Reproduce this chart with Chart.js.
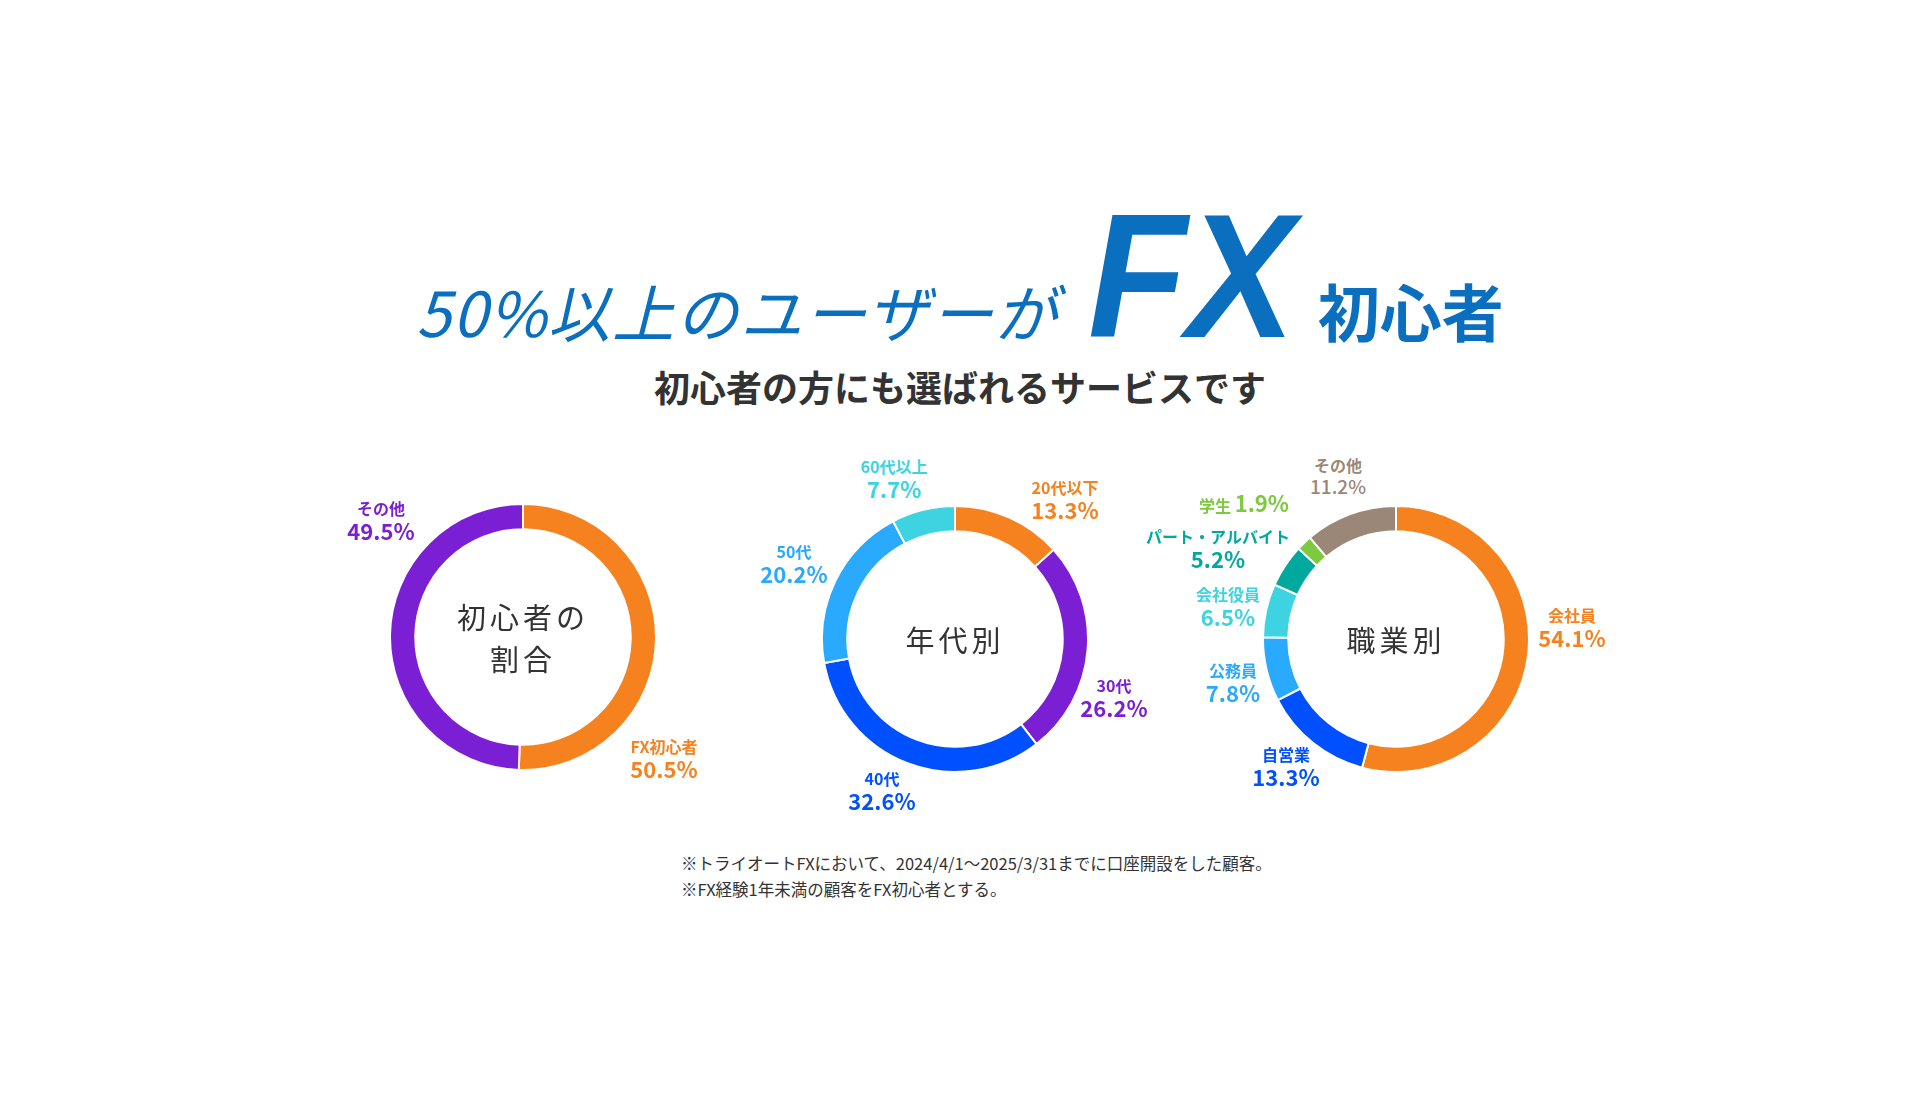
<!DOCTYPE html>
<html><head><meta charset="utf-8">
<script src="https://cdn.jsdelivr.net/npm/chart.js@4/dist/chart.umd.min.js"></script>
<style>
body{margin:0;width:1920px;height:1100px;background:#fff;font-family:"Noto Sans CJK JP","Noto Sans",sans-serif;position:relative;overflow:hidden}
.abs{position:absolute;white-space:nowrap}
.lbl{position:absolute;transform:translateX(-50%);text-align:center;font-weight:700;line-height:1.12;white-space:nowrap}
.lbl .n{font-size:16px}.lbl .v{font-size:22px}
canvas{position:absolute}
.ctr{position:absolute;transform:translate(-50%,-50%);text-align:center;font-size:29px;color:#333;letter-spacing:4px;line-height:1.45}
</style></head><body>
<div class="abs" style="left:0;width:1920px;top:188px;text-align:center;color:#0a6fbf">
 <span style="font-size:62px;font-style:italic;letter-spacing:2px">50%以上のユーザーが</span><span style="display:inline-block;font-family:'Liberation Sans Narrow','Liberation Sans';font-size:176px;font-weight:700;font-style:italic;margin:0 14px 0 20px;line-height:1;transform:scaleX(0.92)">FX</span><span style="font-size:62px;font-weight:700">初心者</span>
</div>
<div class="abs" style="left:0;width:1920px;top:360px;text-align:center;font-size:36px;font-weight:700;color:#333">初心者の方にも選ばれるサービスです</div>
<div class="abs" style="left:681px;top:850px;font-size:16.5px;color:#333;line-height:26px">※トライオートFXにおいて、2024/4/1～2025/3/31までに口座開設をした顧客。<br>※FX経験1年未満の顧客をFX初心者とする。</div>
<script>
const beginnerLabels=["FX初心者","その他"];
const beginnerValues=[50.5,49.5];
const ageLabels=["20代以下","30代","40代","50代","60代以上"];
const ageValues=[13.3,26.2,32.6,20.2,7.7];
const jobLabels=["会社員","自営業","公務員","会社役員","パート・アルバイト","学生","その他"];
const jobValues=[54.1,13.3,7.8,6.5,5.2,1.9,11.2];
const beginnerColors=["#f5821f","#7b1fd4"];
const ageColors=["#f5821f","#7b1fd4","#0050ff","#29aaff","#3dd3e0"];
const jobColors=["#f5821f","#0050ff","#29aaff","#3dd3e0","#00a99d","#7dc93f","#9b8777"];

const charts=[
 {labels:beginnerLabels,values:beginnerValues,colors:beginnerColors,cx:523,cy:637,center:"初心者の<br>割合",
  pos:[[664,738],[381,500]]},
 {labels:ageLabels,values:ageValues,colors:ageColors,cx:955,cy:639,center:"年代別",
  pos:[[1065,479],[1114,677],[882,770],[794,543],[894,458]]},
 {labels:jobLabels,values:jobValues,colors:jobColors,cx:1396,cy:639,center:"職業別",
  pos:[[1572,607],[1286,746],[1233,662],[1228,586],[1218,528],null,[1338,457]]}
];
const R=134;
charts.forEach((c,ci)=>{
 const cv=document.createElement('canvas');
 cv.width=2*R;cv.height=2*R;
 cv.style.left=(c.cx-R)+'px';cv.style.top=(c.cy-R)+'px';
 document.body.appendChild(cv);
 new Chart(cv,{type:'doughnut',data:{labels:c.labels,datasets:[{data:c.values,backgroundColor:c.colors,borderColor:'#fff',borderWidth:2}]},
  options:{responsive:false,animation:false,cutout:'81%',plugins:{legend:{display:false},tooltip:{enabled:false}},layout:{padding:0}}});
 const ct=document.createElement('div');ct.className='ctr';ct.style.left=c.cx+'px';ct.style.top=c.cy+'px';ct.innerHTML=c.center;document.body.appendChild(ct);
 c.labels.forEach((l,i)=>{
  const d=document.createElement('div');d.className='lbl';d.style.color=c.colors[i];
  if(c.pos[i]){d.style.left=c.pos[i][0]+'px';d.style.top=c.pos[i][1]+'px';
   if(ci===2&&i===6){d.innerHTML='<div class="n">'+l+'</div><div class="v" style="font-weight:500;font-size:19px">'+c.values[i]+'%</div>';}
   else d.innerHTML='<div class="n">'+l+'</div><div class="v">'+c.values[i]+'%</div>';}
  else{d.style.left='1244px';d.style.top='490px';d.innerHTML='<span class="n">'+l+'</span> <span class="v">'+c.values[i]+'%</span>';}
  document.body.appendChild(d);
 });
});
</script>
</body></html>
